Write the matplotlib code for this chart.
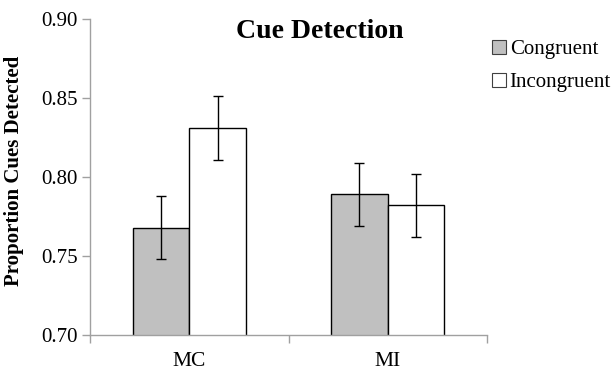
import matplotlib
matplotlib.use("Agg")
import matplotlib.pyplot as plt
import numpy as np

# data
categories = ["MC", "MI"]
congruent = [0.768, 0.789]
incongruent = [0.831, 0.782]
congruent_err = [0.020, 0.020]
incongruent_err = [0.020, 0.020]
series_names = ["Congruent", "Incongruent"]
yticks = [0.70, 0.75, 0.80, 0.85, 0.90]

plt.rcParams['font.family'] = ['Liberation Serif', 'DejaVu Serif']

fig = plt.figure(figsize=(6.15, 3.71), dpi=100)
ax = fig.add_axes([90 / 615, 36 / 371, 397 / 615, 316 / 371])

x = np.arange(len(categories))
w = 0.285
ax.bar(x - w / 2, congruent, w, color="#c0c0c0", edgecolor="black", linewidth=1.0,
       label=series_names[0], zorder=2)
ax.bar(x + w / 2, incongruent, w, color="white", edgecolor="black", linewidth=1.0,
       label=series_names[1], zorder=2)
ax.errorbar(x - w / 2, congruent, yerr=congruent_err, fmt="none", ecolor="black",
            elinewidth=1.0, capsize=3.5, capthick=1.0, zorder=3)
ax.errorbar(x + w / 2, incongruent, yerr=incongruent_err, fmt="none", ecolor="black",
            elinewidth=1.0, capsize=3.5, capthick=1.0, zorder=3)

ax.set_xlim(-0.5, len(categories) - 0.5)
ax.set_ylim(0.70, 0.90)
ax.set_yticks(yticks)
ax.set_yticklabels([f"{v:.2f}" for v in yticks])
ax.set_xticks(x)
ax.set_xticklabels(categories)
ax.tick_params(axis="x", length=0, labelsize=15.5, pad=12)
ax.set_xticks(np.arange(len(categories) + 1) - 0.5, minor=True)
ax.tick_params(axis="x", which="minor", length=6, color="#a0a0a0", width=1.0)
ax.tick_params(axis="y", length=6, color="#a0a0a0", width=1.0, labelsize=15, pad=3)

for side in ["top", "right"]:
    ax.spines[side].set_visible(False)
for side in ["left", "bottom"]:
    ax.spines[side].set_color("#a0a0a0")
    ax.spines[side].set_linewidth(1.0)

ax.set_ylabel("Proportion Cues Detected", fontsize=15, fontweight="bold")
ax.yaxis.set_label_coords(-0.165, 0.52)
fig.text(320 / 615, 1 - 32 / 371, "Cue Detection", fontsize=20, fontweight="bold",
         ha="center", va="center")

leg = ax.legend(loc="upper left", bbox_to_anchor=(492 / 615, 1 - 40 / 371),
                bbox_transform=fig.transFigure, frameon=False, fontsize=15,
                handlelength=0.65, handleheight=0.65, handletextpad=0.2,
                labelspacing=0.65, borderpad=0, borderaxespad=0)
for h in leg.legend_handles:
    h.set_linewidth(0.8)
    h.set_edgecolor("#404040")

fig.savefig("out.png", dpi=100)
